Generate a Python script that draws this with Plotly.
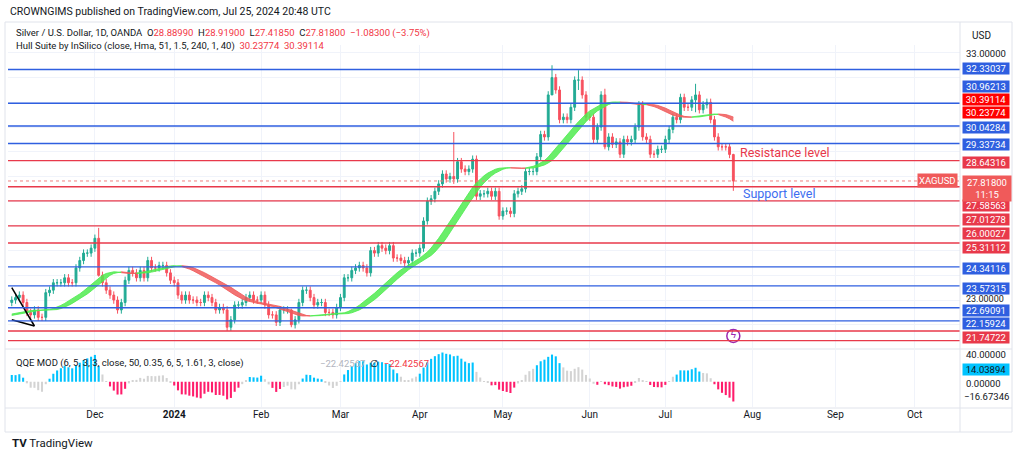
import pandas as pd
import numpy as np
import plotly.graph_objects as go

# ---- datos: cierres diarios XAGUSD (sep 2023 - 25 jul 2024); sep/oct solo para calentar los indicadores
closes = [
    # sep 2023
    24.2, 24.1, 23.9, 23.2, 23.0, 22.9, 23.1, 23.0, 22.9, 22.9, 23.0, 23.4, 23.4, 23.6, 23.4, 23.7, 23.2, 22.9, 22.5, 22.6, 22.1,
    # oct 2-27
    21.1, 20.9, 21.0, 21.0, 21.7, 21.8, 22.0, 21.9, 21.8, 22.6, 22.5, 22.8, 22.9, 23.1, 23.2, 23.0, 22.8, 22.9, 22.9, 23.2,
    # oct 30-31
    23.3, 22.9,
    # nov
    23.0, 23.1, 23.2, 22.9, 22.5, 22.4, 22.6, 22.3, 22.3, 23.3, 23.4, 23.7, 23.7, 23.7, 23.9, 23.7, 23.7, 24.3, 24.6, 24.9, 24.9, 25.1,
    # dic
    25.5, 24.0, 23.7, 23.4, 23.2, 23.0, 22.6, 22.9, 23.8, 24.2, 24.1, 23.9, 24.2, 23.9, 24.6, 24.3, 24.3, 24.4, 24.4, 24.1, 23.8,
    # ene 2024
    23.7, 23.2, 23.0, 23.2, 23.0, 23.0, 22.9, 22.9, 23.2, 23.1, 22.9, 22.6, 22.7, 22.6, 21.9, 22.2, 22.8, 22.8, 22.9, 23.1, 23.2, 23.0, 23.0,
    # feb
    23.2, 22.8, 22.4, 22.4, 22.1, 22.6, 22.6, 22.6, 22.0, 22.2, 22.9, 23.4, 23.4, 23.1, 22.8, 22.9, 22.9, 22.5, 22.5, 22.4, 22.7,
    # mar
    23.1, 23.9, 23.9, 24.2, 24.3, 24.4, 24.3, 24.1, 25.0, 24.9, 25.2, 25.1, 25.0, 25.2, 24.7, 24.7, 24.6, 24.5, 24.6, 24.9, 24.9,
    # abr
    25.1, 26.2, 27.0, 27.1, 27.4, 27.7, 28.1, 27.9, 28.0, 27.9, 28.6, 28.3, 28.2, 28.3, 28.7, 27.2, 27.3, 27.3, 27.4, 27.2, 27.4, 26.4,
    # may
    26.6, 26.6, 26.5, 27.3, 27.4, 27.5, 28.2, 28.2, 28.2, 28.8, 29.7, 29.6, 31.3, 32.0, 31.5, 30.3, 30.4, 30.3, 30.8, 31.9, 31.9, 31.3, 30.4,
    # jun
    30.4, 29.5, 30.0, 31.3, 29.2, 29.6, 29.3, 29.4, 28.9, 29.5, 29.4, 29.5, 30.0, 30.9, 29.6, 29.5, 28.9, 28.9, 29.1, 29.1,
    # jul 1-25
    29.5, 29.9, 30.4, 30.3, 31.2, 30.8, 30.8, 31.1, 31.3, 30.7, 30.9, 31.0, 30.3, 29.6, 29.2, 29.2, 29.2, 28.89, 27.818,
]
first_visible = "2023-11-01"
default_wick = 0.15
# mechas notables (fecha: (máximo, mínimo))
wick_extremes = {
    "2023-12-04": (25.92, 23.95), "2024-02-13": (22.65, 21.90), "2024-04-12": (29.80, 27.70),
    "2024-05-20": (32.50, 31.30), "2024-05-29": (32.30, 31.50), "2024-06-07": (31.55, 29.10),
    "2024-07-11": (31.75, 30.60), "2024-07-25": (28.919, 27.4185),
}

levels = [32.33037, 30.96213, 30.04284, 29.33734, 28.64316, 27.58563, 27.01278, 26.00027,
          25.31112, 24.34116, 23.57315, 22.69091, 22.15924, 21.74722, 21.35757]
level_colors = ["b", "b", "b", "b", "r", "r", "r", "r", "r", "b", "b", "b", "b", "r", "r"]
# posición vertical (px) de cada etiqueta en el eje derecho, ya separadas como en TradingView
label_text = ["32.33037", "30.96213", "30.39114", "30.23774", "30.04284", "29.33734", "28.64316",
              "27.58563", "27.01278", "26.00027", "25.31112", "24.34116", "23.57315", "22.69091",
              "22.15924", "21.74722"]
label_kind = ["b", "b", "h", "h", "b", "b", "r", "r", "r", "r", "r", "b", "b", "b", "b", "r"]
label_px = [69, 86, 99, 112, 127, 144, 162, 205, 219, 233, 247, 268, 288, 310, 323, 337]

tick_dates = ["2023-12-01", "2024-01-01", "2024-02-01", "2024-03-01", "2024-04-01", "2024-05-01",
              "2024-06-03", "2024-07-01", "2024-08-01", "2024-09-02", "2024-10-01"]
tick_text = ["Dec", "<b>2024</b>", "Feb", "Mar", "Apr", "May", "Jun", "Jul", "Aug", "Sep", "Oct"]

# línea de tendencia dibujada a mano al principio
trend_x = [["2023-11-01", "2023-11-09"], ["2023-11-01", "2023-11-09"]]
trend_y = [[23.5, 21.95], [22.2, 21.95]]

BLUE = "#2f5fe0"
RED = "#e8394a"

# ---- preparación
dates = pd.bdate_range(end="2024-07-25", periods=len(closes))
df = pd.DataFrame({"close": closes}, index=dates)
df["open"] = df["close"].shift(1)
df["high"] = df[["open", "close"]].max(axis=1) + default_wick
df["low"] = df[["open", "close"]].min(axis=1) - default_wick
for d, (h, l) in wick_extremes.items():
    df.loc[d, "high"] = h
    df.loc[d, "low"] = l


def wma(s, n):
    w = np.arange(1, n + 1)
    return s.rolling(n, min_periods=1).apply(lambda x: np.dot(x, w[-len(x):]) / w[-len(x):].sum(), raw=True)


def hma(s, n):
    return wma(2 * wma(s, n // 2) - wma(s, n), int(np.sqrt(n)))


df["mhull"] = hma(df["close"], int(51 * 1.5))
df["shull"] = df["mhull"].shift(2)


def rsi(s, n):
    d = s.diff()
    up = d.clip(lower=0).ewm(alpha=1 / n, adjust=False).mean()
    dn = (-d.clip(upper=0)).ewm(alpha=1 / n, adjust=False).mean()
    return 100 - 100 / (1 + up / dn)


rsima = rsi(df["close"], 6).ewm(span=5, adjust=False).mean() - 50
basis = rsima.rolling(50, min_periods=5).mean()
dev = 0.35 * rsima.rolling(50, min_periods=5).std()
df["qqe"] = rsima
qcol = []
for v, b, dv in zip(rsima, basis, dev):
    if v > 3 and v > b + dv:
        qcol.append("#00c3ff")
    elif v < -3 and v < b - dv:
        qcol.append("#ff1c6b")
    else:
        qcol.append("#d3d3d3")
df["qcol"] = qcol

vis = df.loc[first_visible:]

fig = go.Figure()

# niveles horizontales
for lv, c in zip(levels, level_colors):
    fig.add_hline(y=lv, line_color=BLUE if c == "b" else RED, line_width=1.4)
fig.add_hline(y=closes[-1], line_color="#f08080", line_width=1, line_dash="dot")

# cinta Hull
hv = vis[["mhull", "shull"]].values
greens = hv[:, 0] > hv[:, 1]
i = 0
while i < len(vis):
    j = i
    while j + 1 < len(vis) and greens[j + 1] == greens[i]:
        j += 1
    sl = vis.iloc[i:min(j + 2, len(vis))]
    col = "rgba(80,235,80,0.85)" if greens[i] else "rgba(240,90,90,0.85)"
    fig.add_trace(go.Scatter(x=sl.index, y=sl["shull"], mode="lines", line=dict(color=col, width=1),
                             showlegend=False, hoverinfo="skip"))
    fig.add_trace(go.Scatter(x=sl.index, y=sl["mhull"], mode="lines", line=dict(color=col, width=1),
                             fill="tonexty", fillcolor=col, showlegend=False, hoverinfo="skip"))
    i = j + 1

fig.add_trace(go.Candlestick(
    x=vis.index, open=vis["open"], high=vis["high"], low=vis["low"], close=vis["close"],
    increasing=dict(line=dict(color="#22ab94", width=1), fillcolor="#22ab94"),
    decreasing=dict(line=dict(color="#f7525f", width=1), fillcolor="#f7525f"),
    whiskerwidth=0, showlegend=False))

for tx, ty in zip(trend_x, trend_y):
    fig.add_trace(go.Scatter(x=tx, y=ty, mode="lines", line=dict(color="black", width=1.5),
                             showlegend=False, hoverinfo="skip"))

# icono
fig.add_trace(go.Scatter(x=["2024-07-25"], y=[21.55], mode="markers+text", text=["ϟ"],
                         marker=dict(size=13, color="white", line=dict(color="#9c27b0", width=1.5)),
                         textfont=dict(color="#9c27b0", size=10), showlegend=False, hoverinfo="skip"))

# QQE
fig.add_trace(go.Bar(x=vis.index, y=vis["qqe"], marker_color=vis["qcol"], marker_line_width=0,
                     width=1000 * 3600 * 24 * 0.55, yaxis="y2", xaxis="x2", showlegend=False))

xr = ["2023-10-31", "2024-10-17"]
common_x = dict(range=xr, rangebreaks=[dict(bounds=["sat", "mon"])], showgrid=True,
                gridcolor="#f0f3fa", tickvals=tick_dates, zeroline=False, showline=False)
fig.update_layout(
    width=1024, height=458, margin=dict(l=0, r=0, t=0, b=0),
    paper_bgcolor="white", plot_bgcolor="white",
    font=dict(family="Roboto, Arial", size=10, color="#131722"),
    xaxis=dict(domain=[8 / 1024, 960 / 1024], showticklabels=False, rangeslider=dict(visible=False), **common_x),
    xaxis2=dict(domain=[8 / 1024, 960 / 1024], anchor="y2", ticktext=tick_text, ticks="",
                tickfont=dict(size=10, color="#131722"), **common_x),
    yaxis=dict(domain=[1 - 348 / 458, 1 - 45 / 458], range=[21.06, 33.32], showticklabels=False,
               showgrid=True, gridcolor="#f0f3fa", dtick=1, zeroline=False),
    yaxis2=dict(domain=[1 - 407 / 458, 1 - 350 / 458], range=[-35, 44], showticklabels=False,
                showgrid=False, zeroline=False),
)


def px_x(p):
    return p / 1024


def px_y(p):
    return 1 - p / 458


# marcos
frame = dict(color="#e0e3eb", width=1)
shapes = [
    dict(type="rect", xref="paper", yref="paper", x0=px_x(5), x1=px_x(1012), y0=px_y(432), y1=px_y(22), line=frame),
    dict(type="line", xref="paper", yref="paper", x0=px_x(960), x1=px_x(960), y0=px_y(432), y1=px_y(22), line=frame),
    dict(type="line", xref="paper", yref="paper", x0=px_x(5), x1=px_x(1012), y0=px_y(349), y1=px_y(349), line=frame),
    dict(type="line", xref="paper", yref="paper", x0=px_x(5), x1=px_x(1012), y0=px_y(408), y1=px_y(408), line=frame),
]
fig.update_layout(shapes=list(fig.layout.shapes) + shapes)

ann = [
    dict(x=px_x(8), y=px_y(12), text="CROWNGIMS published on TradingView.com, Jul 25, 2024 20:48 UTC",
         font=dict(size=10.5, color="#131722")),
    dict(x=px_x(14), y=px_y(33),
         text="Silver / U.S. Dollar, 1D, OANDA  O<span style='color:#f23645'>28.88990</span>  "
              "H<span style='color:#f23645'>28.91900</span>  L<span style='color:#f23645'>27.41850</span>  "
              "C<span style='color:#f23645'>27.81800</span>  <span style='color:#f23645'>−1.08300 (−3.75%)</span>",
         font=dict(size=9.5)),
    dict(x=px_x(14), y=px_y(46),
         text="Hull Suite by InSilico (close, Hma, 51, 1.5, 240, 1, 40)  "
              "<span style='color:#f23645'>30.23774  30.39114</span>", font=dict(size=9.5)),
    dict(x=px_x(14), y=px_y(363),
         text="QQE MOD (6, 5, 3, 3, close, 50, 0.35, 6, 5, 1.61, 3, close)", font=dict(size=9.5)),
    dict(x=px_x(318), y=px_y(363),
         text="<span style='color:#b2b5be'>−22.42567</span>  ∅  <span style='color:#f23645'>−22.42567</span>",
         font=dict(size=9.5)),
    dict(x=px_x(738), y=px_y(152), text="Resistance level", font=dict(size=12.5, color=RED)),
    dict(x=px_x(741), y=px_y(193), text="Support level", font=dict(size=12.5, color="#3d6ef0")),
    dict(x=px_x(970), y=px_y(35), text="USD", font=dict(size=10)),
    dict(x=px_x(964), y=px_y(53), text="33.00000", font=dict(size=9.5)),
    dict(x=px_x(964), y=px_y(299), text="23.00000", font=dict(size=9)),
    dict(x=px_x(964), y=px_y(354), text="40.00000", font=dict(size=9.5)),
    dict(x=px_x(964), y=px_y(383), text="0.00000", font=dict(size=9.5)),
    dict(x=px_x(962), y=px_y(396), text="−16.67346", font=dict(size=9.5)),
    dict(x=px_x(10), y=px_y(443), text="<b>TV</b> TradingView", font=dict(size=11.5, color="#131722")),
]
for a in ann:
    fig.add_annotation(xref="paper", yref="paper", xanchor="left", yanchor="middle", showarrow=False, **a)

# etiquetas de precio del eje derecho
kind_bg = {"b": BLUE, "r": RED, "h": "#ff0000"}
for t, k, p in zip(label_text, label_kind, label_px):
    fig.add_annotation(xref="paper", yref="paper", x=px_x(962), y=px_y(p), xanchor="left", yanchor="middle",
                       text=t, showarrow=False, bgcolor=kind_bg[k], width=46,
                       font=dict(size=9.5, color="white"), borderpad=0)
fig.add_annotation(xref="paper", yref="paper", x=px_x(962), y=px_y(188), xanchor="left", yanchor="middle",
                   text="27.81800<br>11:15", showarrow=False, bgcolor="#f05a5a", width=46,
                   font=dict(size=9.5, color="white"), borderpad=1)
fig.add_annotation(xref="paper", yref="y", x=px_x(958), y=closes[-1], xanchor="right", yanchor="middle",
                   text="XAGUSD", showarrow=False, bgcolor="#f05a5a",
                   font=dict(size=9.5, color="white"), borderpad=1)
fig.add_annotation(xref="paper", yref="paper", x=px_x(962), y=px_y(369), xanchor="left", yanchor="middle",
                   text="14.03894", showarrow=False, bgcolor="#00c3ff", width=46,
                   font=dict(size=9.5, color="#131722"), borderpad=0)

fig.write_html("out.html", config={"displayModeBar": False},
               post_script="document.body.style.margin='0';")
